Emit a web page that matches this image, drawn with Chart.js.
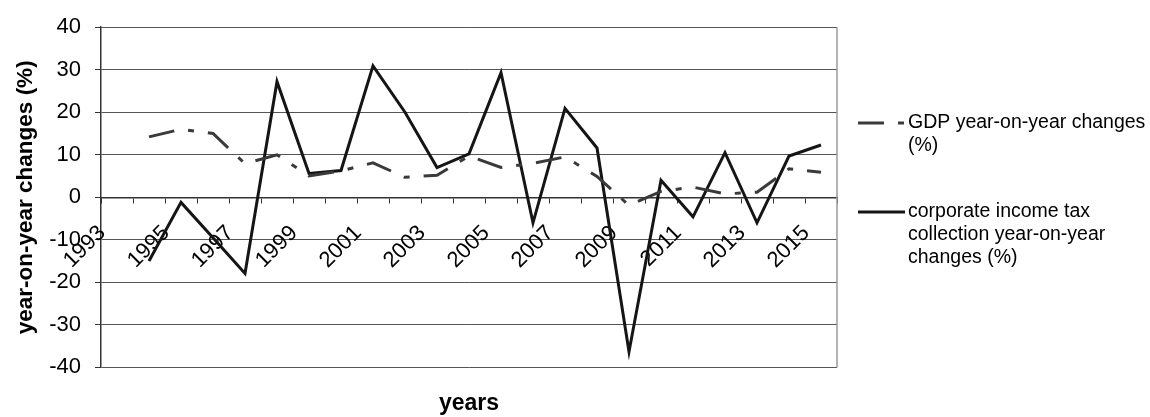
<!DOCTYPE html>
<html lang="en">
<head>
  <meta charset="UTF-8" />
  <title>GDP vs corporate income tax</title>
  <script src="https://cdn.jsdelivr.net/npm/chart.js"></script>
  <style>
    html, body {
      margin: 0;
      padding: 0;
      background: #fff;
    }
    .wrap {
      width: 1150px;
      height: 417px;
    }
  </style>
</head>
<body>
  <div class="wrap">
    <canvas id="yoyChart" width="1150" height="417"></canvas>
  </div>

  <script>
    const years = ['1993', '1994', '1995', '1996', '1997', '1998', '1999', '2000', '2001', '2002', '2003', '2004',
                   '2005', '2006', '2007', '2008', '2009', '2010', '2011', '2012', '2013', '2014', '2015'];
    const gdpChange = [null, 14.2, 16.0, 15.0, 7.9, 10.0, 5.0, 6.2, 8.1, 4.7, 5.2, 9.7,
                       7.0, 8.0, 9.5, 4.9, -1.9, 1.4, 2.4, 0.8, 1.2, 6.7, 5.9];
    const taxChange = [null, -15.0, -1.2, -9.5, -17.9, 27.2, 5.6, 6.3, 30.9, 20.0, 7.0, 10.2,
                       29.3, -6.0, 20.9, 11.6, -36.3, 4.0, -4.6, 10.5, -6.0, 9.7, 12.3];
    const gdpLabel = ['GDP year-on-year changes', '(%)'];
    const taxLabel = ['corporate income tax', 'collection year-on-year', 'changes (%)'];

    const FONT = "'Liberation Sans', Arial, sans-serif";

    // legend on the right, wrapped like the original
    const sideLegend = {
      id: 'sideLegend',
      afterDraw(chart) {
        const ctx = chart.ctx;
        const area = chart.chartArea;
        const items = [
          { ds: chart.data.datasets[0], lines: gdpLabel, y: 123 },
          { ds: chart.data.datasets[1], lines: taxLabel, y: 212 }
        ];
        ctx.save();
        items.forEach(it => {
          ctx.strokeStyle = it.ds.borderColor;
          ctx.lineWidth = it.ds.borderWidth;
          ctx.setLineDash(it.ds.borderDash || []);
          ctx.beginPath();
          ctx.moveTo(area.right + 21, it.y);
          ctx.lineTo(area.right + 68, it.y);
          ctx.stroke();
          ctx.setLineDash([]);
          ctx.fillStyle = '#000';
          ctx.font = '19.5px ' + FONT;
          ctx.textBaseline = 'middle';
          it.lines.forEach((t, i) => ctx.fillText(t, area.right + 71, it.y + i * 23));
        });
        // plot area border on the right
        ctx.strokeStyle = '#9a9a9a';
        ctx.lineWidth = 1.5;
        ctx.beginPath();
        ctx.moveTo(area.right, area.top);
        ctx.lineTo(area.right, area.bottom);
        ctx.stroke();
        ctx.restore();
      }
    };

    new Chart(document.getElementById('yoyChart'), {
      type: 'line',
      data: {
        labels: years,
        datasets: [
          {
            label: gdpLabel.join(' '),
            data: gdpChange,
            borderColor: '#3a3a3a',
            borderWidth: 3,
            borderDash: [26, 14, 6, 14],
            pointRadius: 0,
            tension: 0,
            spanGaps: false
          },
          {
            label: taxLabel.join(' '),
            data: taxChange,
            borderColor: '#151515',
            borderWidth: 3,
            pointRadius: 0,
            tension: 0
          }
        ]
      },
      options: {
        responsive: false,
        animation: false,
        layout: {
          padding: { top: 24, right: 313, bottom: 0, left: 0 }
        },
        scales: {
          y: {
            min: -40,
            max: 40,
            afterFit: s => { s.width = 101; },
            ticks: {
              stepSize: 10,
              color: '#000',
              padding: 14,
              font: { family: FONT, size: 22 }
            },
            grid: {
              color: '#555',
              lineWidth: 1,
              tickLength: 6,
              tickColor: '#333'
            },
            border: { color: '#333', width: 1.5 },
            title: {
              display: true,
              text: 'year-on-year changes (%)',
              color: '#000',
              padding: { top: 12, bottom: 0 },
              font: { family: FONT, size: 22.5, weight: 'bold' }
            }
          },
          x: {
            position: { y: 0 },
            offset: true,
            grid: {
              offset: true,
              drawOnChartArea: false,
              tickLength: 5,
              color: '#333'
            },
            border: { color: '#333', width: 1.5 },
            ticks: {
              autoSkip: false,
              minRotation: 45,
              maxRotation: 45,
              color: '#000',
              padding: 18,
              labelOffset: -15,
              font: { family: FONT, size: 22 },
              callback: function (value, index) {
                return index % 2 === 0 ? this.getLabelForValue(value) : '';
              }
            }
          }
        },
        plugins: {
          legend: { display: false },
          tooltip: { enabled: false },
          title: {
            display: true,
            position: 'bottom',
            fullSize: false,
            text: 'years',
            color: '#000',
            padding: { top: 22, bottom: 0 },
            font: { family: FONT, size: 23, weight: 'bold' }
          }
        }
      },
      plugins: [sideLegend]
    });
  </script>
</body>
</html>
